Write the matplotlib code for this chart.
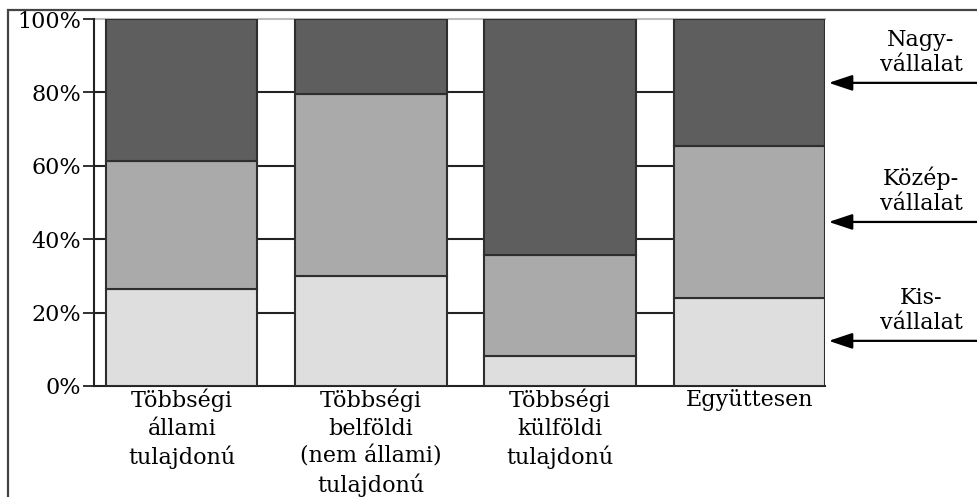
import matplotlib
matplotlib.use("Agg")
import matplotlib.pyplot as plt
from matplotlib.patches import Rectangle

# data (percent of firms by size, per ownership type)
categories = ["Többségi\nállami\ntulajdonú",
              "Többségi\nbelföldi\n(nem állami)\ntulajdonú",
              "Többségi\nkülföldi\ntulajdonú",
              "Együttesen"]
kis = [26.5, 30.0, 8.2, 24.0]
kozep = [34.7, 49.6, 27.6, 41.4]
nagy = [38.8, 20.4, 64.2, 34.6]
series_names = ["Kis-\nvállalat", "Közép-\nvállalat", "Nagy-\nvállalat"]
yticks = [0, 20, 40, 60, 80, 100]

plt.rcParams["font.family"] = ["DejaVu Serif"]
plt.rcParams["font.size"] = 16

fig = plt.figure(figsize=(9.78, 4.97), dpi=100)
ax = fig.add_axes([94 / 978, 1 - 386 / 497, (825 - 94) / 978, (386 - 19) / 497])

# outer frame (only top and left edges fall inside the picture)
fig.patches.append(Rectangle((8 / 978, -0.2), 1.5, 1.2 - 10 / 497,
                             transform=fig.transFigure, fill=False,
                             edgecolor="#444444", linewidth=1.6))

x = list(range(len(categories)))
edge = "#2e2e2e"
ax.bar(x, kis, width=0.8, color="#dedede", edgecolor=edge, linewidth=1.5, zorder=3)
bottom2 = kis
ax.bar(x, kozep, width=0.8, bottom=bottom2, color="#aaaaaa", edgecolor=edge,
       linewidth=1.5, zorder=3)
bottom3 = [a + b for a, b in zip(kis, kozep)]
ax.bar(x, nagy, width=0.8, bottom=bottom3, color="#5e5e5e", edgecolor=edge,
       linewidth=1.5, zorder=3)

for v in yticks[1:-1]:
    ax.axhline(v, color="#222222", linewidth=1.5, zorder=1)
ax.axhline(100, color="#bbbbbb", linewidth=1.5, zorder=1, clip_on=False)

ax.set_xlim(-0.464, 3.4)
ax.set_ylim(0, 100)
ax.set_yticks(yticks)
ax.set_yticklabels([f"{v}%" for v in yticks])
ax.set_xticks(x)
ax.set_xticklabels(categories, linespacing=1.33)
ax.tick_params(axis="x", length=0, pad=2)
ax.tick_params(axis="y", length=8, width=1.3, color="#222222", pad=1)

for s in ["top", "right"]:
    ax.spines[s].set_visible(False)
for s in ["left", "bottom"]:
    ax.spines[s].set_color("#222222")
    ax.spines[s].set_linewidth(1.5)

# labels with arrows on the right
arrow_y = [12.3, 44.7, 82.6]
for name, ay in zip(series_names, arrow_y):
    ax.annotate("", xy=(3.405, ay), xytext=(1.01, ay),
                xycoords="data", textcoords=("figure fraction", "data"),
                arrowprops=dict(arrowstyle="-|>,head_length=0.9,head_width=0.3",
                                color="black", linewidth=1.6),
                annotation_clip=False)
    ax.annotate(name, xy=(921 / 978, ay), xycoords=("figure fraction", "data"),
                xytext=(0, 5), textcoords="offset points",
                ha="center", va="bottom", linespacing=1.15,
                annotation_clip=False)

fig.savefig("out.png", dpi=100)
